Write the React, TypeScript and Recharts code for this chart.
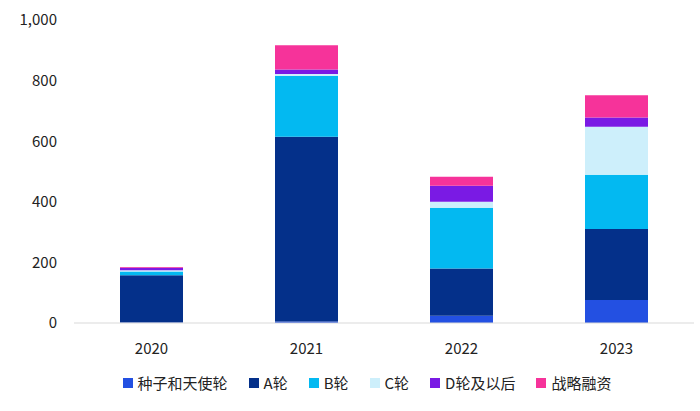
import { Bar, BarChart, Legend, XAxis, YAxis } from "recharts";

// Investment amounts by round
const years = ["2020", "2021", "2022", "2023"];
const seedAngel = [2, 5, 24, 76];
const roundA = [156, 610, 156, 234];
const roundB = [12, 200, 200, 179];
const roundC = [4, 7, 20, 159];
const roundDPlus = [8, 15, 53, 30];
const strategic = [3, 80, 30, 74];
const yTicks = [0, 200, 400, 600, 800, 1000];

const SERIES = [
  { key: "seed", name: "种子和天使轮", color: "#2350E2", values: seedAngel },
  { key: "a", name: "A轮", color: "#04308A", values: roundA },
  { key: "b", name: "B轮", color: "#03B9F1", values: roundB },
  { key: "c", name: "C轮", color: "#CDEFFB", values: roundC },
  { key: "d", name: "D轮及以后", color: "#7A1AE4", values: roundDPlus },
  { key: "s", name: "战略融资", color: "#F6339A", values: strategic },
];

const FONT = '"Noto Sans CJK SC", "Noto Sans", sans-serif';

const chartData = years.map((year, i) => {
  const row: Record<string, string | number> = { year };
  SERIES.forEach((s) => {
    row[s.key] = s.values[i];
  });
  return row;
});

function LegendContent() {
  return (
    <div
      style={{
        display: "flex",
        justifyContent: "center",
        gap: 21,
        fontFamily: FONT,
        fontSize: 15,
        color: "#222",
        paddingLeft: 34,
      }}
    >
      {SERIES.map((s) => (
        <div key={s.key} style={{ display: "flex", alignItems: "center", gap: 5 }}>
          <span style={{ width: 10, height: 10, background: s.color, display: "inline-block" }} />
          <span>{s.name}</span>
        </div>
      ))}
    </div>
  );
}

export default function App() {
  document.body.style.margin = "0";
  return (
    <div style={{ width: 700, height: 411, background: "#fff" }}>
      <BarChart
        width={700}
        height={411}
        data={chartData}
        margin={{ top: 20, right: 6, left: 0, bottom: 0 }}
      >
        <XAxis
          dataKey="year"
          height={40}
          tickLine={false}
          tickMargin={14}
          axisLine={{ stroke: "#d9d9d9" }}
          tick={{ fill: "#222", fontSize: 15, fontFamily: FONT }}
        />
        <YAxis
          width={74}
          domain={[0, 1000]}
          ticks={yTicks}
          axisLine={false}
          tickLine={false}
          tickMargin={11}
          tickFormatter={(v: number) => v.toLocaleString("en-US")}
          tick={{ fill: "#222", fontSize: 15, fontFamily: FONT }}
        />
        <Legend
          verticalAlign="bottom"
          height={48}
          content={<LegendContent />}
          wrapperStyle={{ top: 372, left: 0, width: 700 }}
        />
        {SERIES.map((s) => (
          <Bar
            key={s.key}
            dataKey={s.key}
            name={s.name}
            stackId="total"
            fill={s.color}
            barSize={63}
            isAnimationActive={false}
          />
        ))}
      </BarChart>
    </div>
  );
}
